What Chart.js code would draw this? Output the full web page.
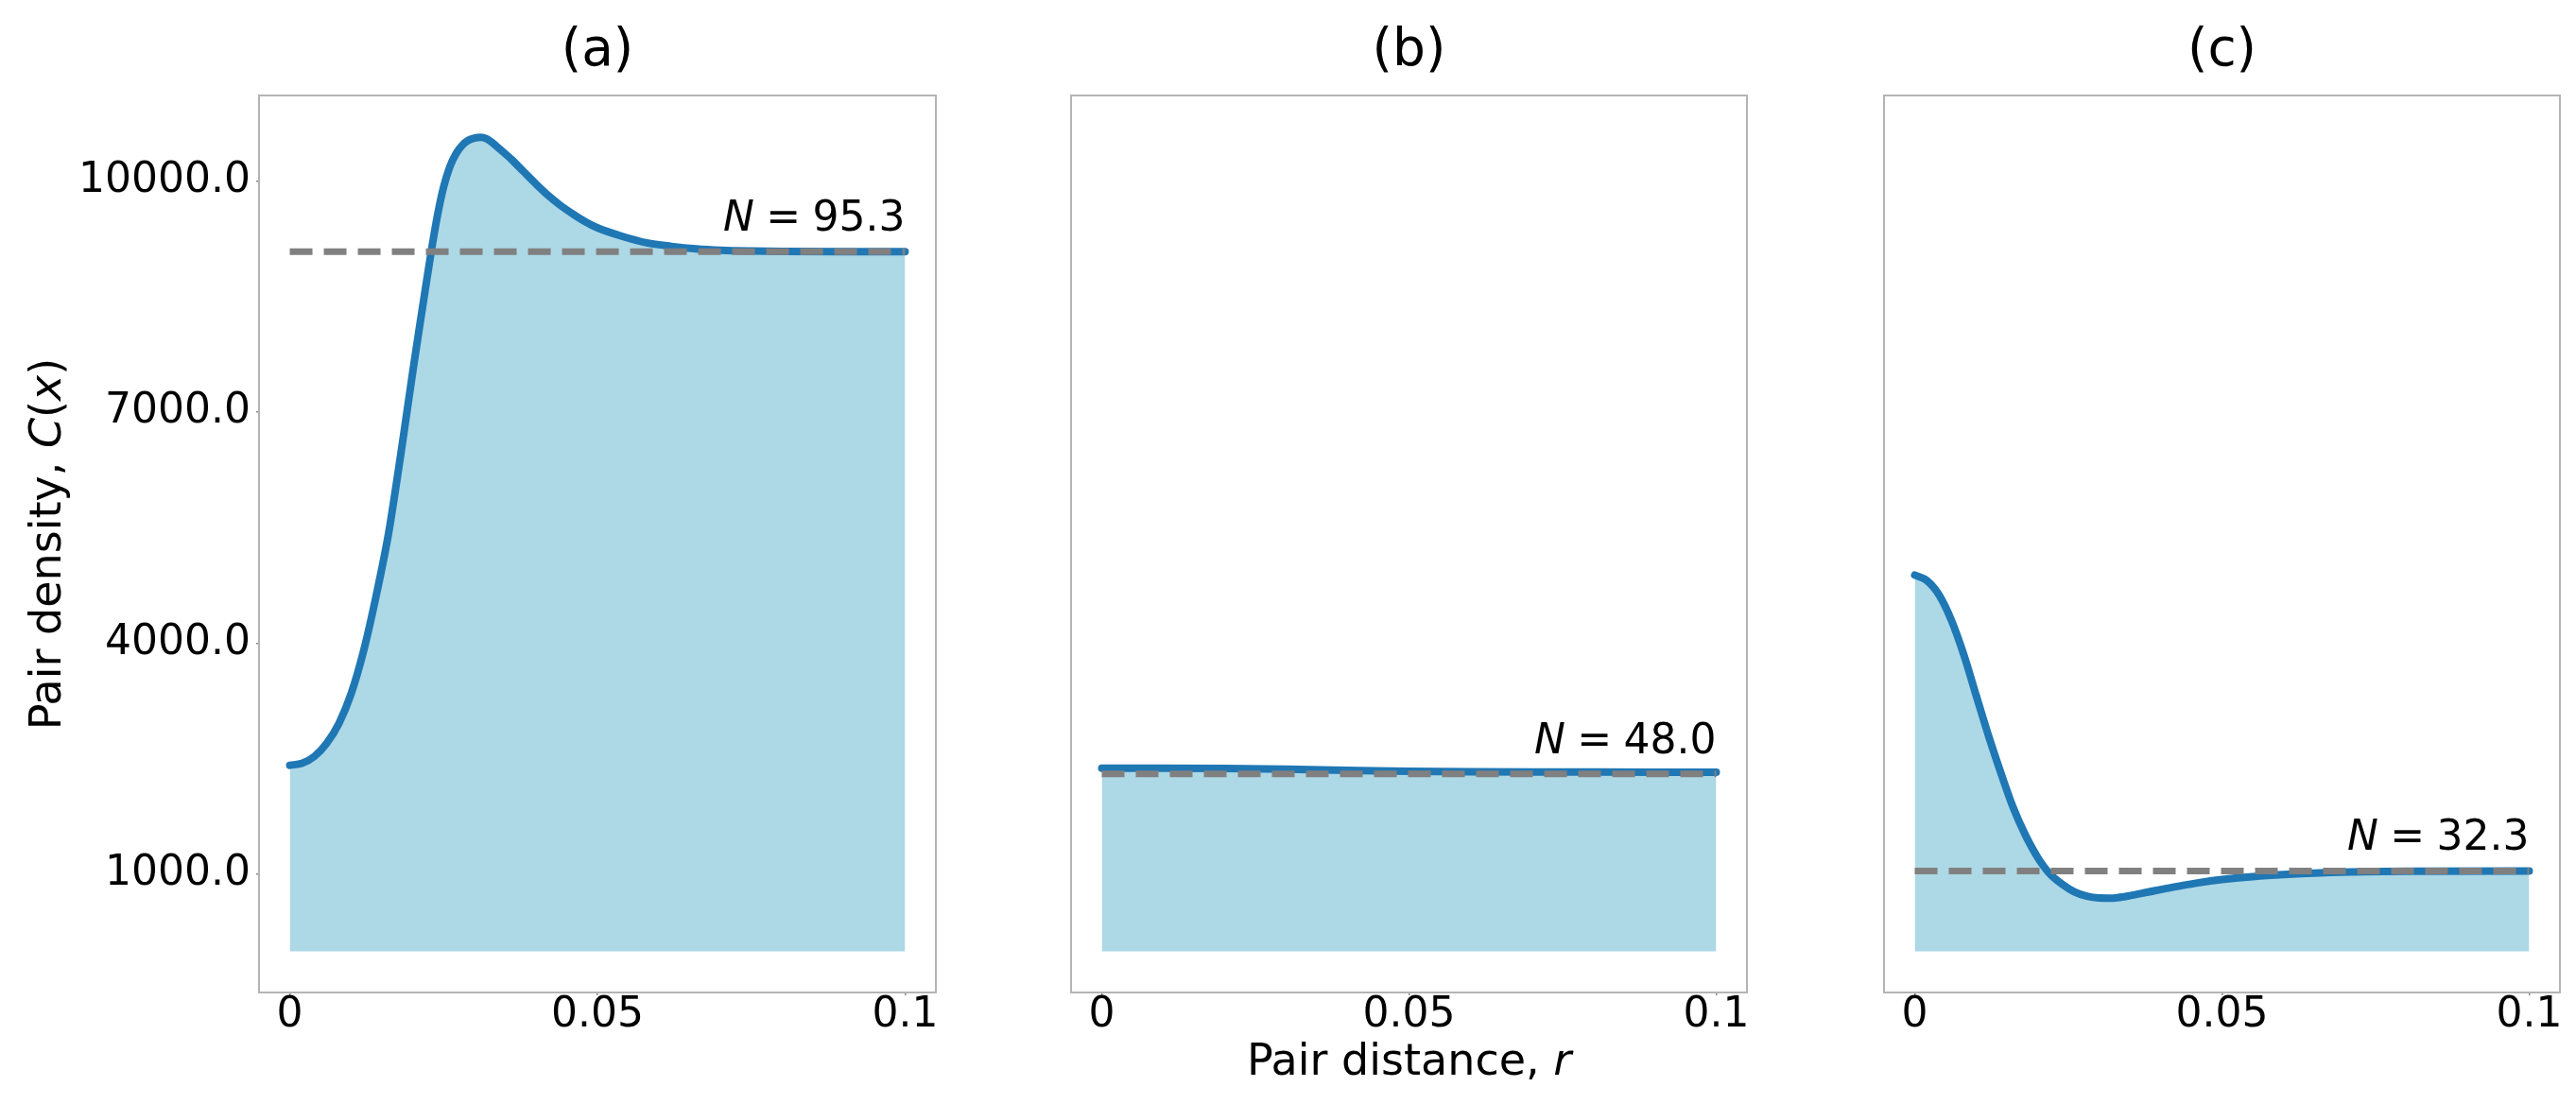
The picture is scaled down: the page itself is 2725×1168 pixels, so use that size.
<!DOCTYPE html>
<html><head><meta charset="utf-8">
<script src="https://cdn.jsdelivr.net/npm/chart.js@4.4.1/dist/chart.umd.min.js"></script>
<style>
html,body{margin:0;padding:0;background:#fff;}
#wrap{position:relative;width:2725px;height:1168px;overflow:hidden;background:#fff;}
#wrap canvas{position:absolute;left:0;top:0;}
</style></head><body>
<div id="wrap">
<canvas id="ca" width="2725" height="1168"></canvas>
<canvas id="cb" width="2725" height="1168"></canvas>
<canvas id="cc" width="2725" height="1168"></canvas>
</div>
<script>
// ---------------- data ----------------
const xTickValues = [0, 0.05, 0.1];
const xTickLabels = ['0', '0.05', '0.1'];
const yTickValues = [1000, 4000, 7000, 10000];
const yTickLabels = ['1000.0', '4000.0', '7000.0', '10000.0'];
const panelTitles = ['(a)', '(b)', '(c)'];
const nLabels = ['95.3', '48.0', '32.3'];
const refLevels = [9082, 2304, 1043];

const rA = [0, 0.002, 0.004, 0.006, 0.008, 0.010, 0.012, 0.014, 0.016, 0.017, 0.018, 0.019, 0.020, 0.021, 0.022, 0.023, 0.024, 0.025, 0.026, 0.027, 0.028, 0.029, 0.030, 0.031, 0.032, 0.033, 0.034, 0.036, 0.038, 0.040, 0.042, 0.044, 0.046, 0.048, 0.050, 0.054, 0.058, 0.062, 0.066, 0.070, 0.075, 0.080, 0.090, 0.1];
const cA = [2415, 2440, 2530, 2700, 2960, 3350, 3900, 4600, 5400, 5900, 6430, 6980, 7530, 8060, 8580, 9090, 9550, 9920, 10180, 10350, 10460, 10525, 10555, 10565, 10545, 10490, 10420, 10280, 10120, 9960, 9810, 9680, 9570, 9470, 9390, 9280, 9195, 9150, 9118, 9100, 9090, 9085, 9082, 9082];

const rB = [0, 0.01, 0.02, 0.03, 0.04, 0.05, 0.06, 0.07, 0.08, 0.1];
const cB = [2378, 2378, 2374, 2365, 2350, 2337, 2330, 2327, 2326, 2325];

const rC = [0, 0.002, 0.004, 0.006, 0.008, 0.010, 0.012, 0.014, 0.016, 0.018, 0.020, 0.022, 0.024, 0.026, 0.028, 0.030, 0.0315, 0.033, 0.035, 0.038, 0.042, 0.046, 0.050, 0.055, 0.060, 0.066, 0.073, 0.080, 0.1];
const cC = [4883, 4810, 4620, 4290, 3845, 3321, 2800, 2320, 1870, 1510, 1220, 1005, 870, 770, 715, 692, 690, 697, 722, 770, 833, 888, 932, 970, 997, 1019, 1034, 1040, 1043];

const yLabelRuns = [{t:'Pair density, '}, {t:'C', it:true}, {t:'('}, {t:'x', it:true}, {t:')'}];
const xLabelRuns = [{t:'Pair distance, '}, {t:'r', it:true}];

// ---------------- drawing ----------------
const FONT = '"DejaVu Sans"';
const W = 2725, H = 1168;
const PLOT_TOP = 101, PLOT_BOTTOM = 1050;
const Y_MIN = -534, Y_MAX = 11108;
const X_MIN = -0.005, X_MAX = 0.105;

function drawRuns(ctx, runs, size, align) {
  const ws = runs.map(r => {
    if (r.gap !== undefined) return r.gap * size;
    ctx.font = (r.it ? 'italic ' : '') + size + 'px ' + FONT;
    return ctx.measureText(r.t).width;
  });
  const total = ws.reduce((a, b) => a + b, 0);
  let x = align === 'right' ? -total : (align === 'center' ? -total / 2 : 0);
  ctx.textBaseline = 'alphabetic';
  ctx.textAlign = 'left';
  runs.forEach((r, i) => {
    if (r.t !== undefined) {
      ctx.font = (r.it ? 'italic ' : '') + size + 'px ' + FONT;
      ctx.fillText(r.t, x, 0);
    }
    x += ws[i];
  });
}

const framePlugin = {
  id: 'frame',
  beforeDatasetsDraw(chart) {
    const {ctx, chartArea: a} = chart;
    ctx.save();
    ctx.strokeStyle = '#b4b4b4';
    ctx.lineWidth = 2;
    ctx.strokeRect(a.left, a.top, a.right - a.left, a.bottom - a.top);
    ctx.restore();
  }
};

const textPlugin = {
  id: 'texts',
  afterDraw(chart, args, opts) {
    const {ctx, chartArea: a} = chart;
    const xs = chart.scales.x, ys = chart.scales.y;
    const i = opts.index;
    ctx.save();
    ctx.fillStyle = '#000';
    ctx.save();
    ctx.translate((a.left + a.right) / 2, a.top - 32);
    drawRuns(ctx, [{t: panelTitles[i]}], 55, 'center');
    ctx.restore();
    ctx.save();
    ctx.translate(xs.getPixelForValue(xTickValues[2]), ys.getPixelForValue(refLevels[i]) - 22);
    drawRuns(ctx, [{t:'N', it:true}, {gap:0.28}, {t:'='}, {gap:0.28}, {t: nLabels[i]}], 44, 'right');
    ctx.restore();
    if (opts.yLabel) {
      ctx.save();
      ctx.translate(64, (a.top + a.bottom) / 2);
      ctx.rotate(-Math.PI / 2);
      drawRuns(ctx, yLabelRuns, 46, 'center');
      ctx.restore();
    }
    if (opts.xLabel) {
      ctx.save();
      ctx.translate((a.left + a.right) / 2, 1137);
      drawRuns(ctx, xLabelRuns, 46, 'center');
      ctx.restore();
    }
    ctx.restore();
  }
};

function makeChart(id, idx, rs, cs, left, right, showY) {
  const curve = rs.map((r, k) => ({x: r, y: cs[k]}));
  const ref = [{x: rs[0], y: refLevels[idx]}, {x: rs[rs.length - 1], y: refLevels[idx]}];
  const tickGrid = {display: true, drawOnChartArea: false, drawTicks: true, tickLength: 3, color: '#888', lineWidth: 1.5};
  return new Chart(document.getElementById(id), {
    type: 'line',
    data: {
      datasets: [
        {data: ref, borderColor: '#808080', borderWidth: 7, borderDash: [24, 12], fill: false, pointRadius: 0, tension: 0},
        {data: curve, borderColor: '#1f77b4', borderWidth: 8, backgroundColor: '#add8e6', fill: 'origin', pointRadius: 0, cubicInterpolationMode: 'monotone', borderJoinStyle: 'round', borderCapStyle: 'round'}
      ]
    },
    options: {
      responsive: false,
      animation: false,
      events: [],
      layout: {padding: {left: showY ? 0 : left, right: W - right, top: PLOT_TOP, bottom: 0}},
      plugins: {legend: {display: false}, tooltip: {enabled: false}, title: {display: false}, texts: {index: idx, yLabel: showY, xLabel: idx === 1}},
      scales: {
        x: {
          type: 'linear', min: X_MIN, max: X_MAX,
          grid: tickGrid,
          border: {display: false},
          afterFit(s) { s.height = H - PLOT_BOTTOM; },
          afterBuildTicks(s) { s.ticks = xTickValues.map(v => ({value: v})); },
          ticks: {
            autoSkip: false, maxRotation: 0, padding: 0, color: '#000',
            font: {family: 'DejaVu Sans', size: 44, lineHeight: 1},
            callback: (v) => { const k = xTickValues.indexOf(v); return k >= 0 ? xTickLabels[k] : ''; }
          }
        },
        y: {
          type: 'linear', min: Y_MIN, max: Y_MAX,
          display: showY,
          grid: tickGrid,
          border: {display: false},
          afterFit(s) { if (showY) s.width = left; },
          afterBuildTicks(s) { s.ticks = yTickValues.map(v => ({value: v})); },
          ticks: {
            autoSkip: false, padding: 6, color: '#000',
            font: {family: 'DejaVu Sans', size: 44, lineHeight: 1},
            callback: (v) => { const k = yTickValues.indexOf(v); return k >= 0 ? yTickLabels[k] : ''; }
          }
        }
      }
    },
    plugins: [framePlugin, textPlugin]
  });
}

makeChart('ca', 0, rA, cA, 274, 990, true);
makeChart('cb', 1, rB, cB, 1133, 1848, false);
makeChart('cc', 2, rC, cC, 1993, 2708, false);
</script>
</body></html>
